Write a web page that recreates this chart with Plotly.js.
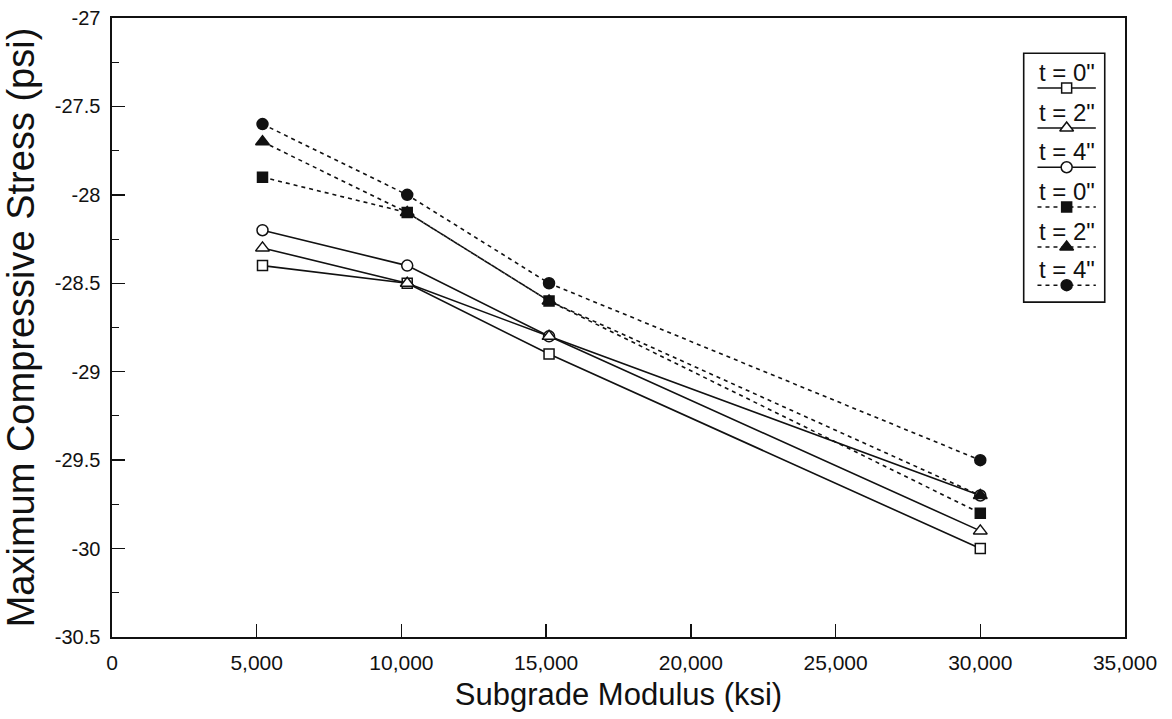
<!DOCTYPE html>
<html>
<head>
<meta charset="utf-8">
<script src="https://cdn.plot.ly/plotly-3.0.1.min.js"></script>
<style>html,body{margin:0;padding:0;background:#fff;}#chart{width:1172px;height:719px;}</style>
</head>
<body>
<div id="chart"></div>
<script>
// ---- data ----
const subgradeModulus = [5200, 10200, 15100, 30000];
const openT0 = [-28.4, -28.5, -28.9, -30.0];
const openT2 = [-28.3, -28.5, -28.8, -29.9];
const openT4 = [-28.2, -28.4, -28.8, -29.7];
const filledT0 = [-27.9, -28.1, -28.6, -29.8];
const filledT2 = [-27.7, -28.1, -28.6, -29.7];
const filledT4 = [-27.6, -28.0, -28.5, -29.5];
const seriesNames = ['t = 0"', 't = 2"', 't = 4"', 't = 0"', 't = 2"', 't = 4"'];
const xTickVals = [0, 5000, 10000, 15000, 20000, 25000, 30000, 35000];
const xTickText = ['0', '5,000', '10,000', '15,000', '20,000', '25,000', '30,000', '35,000'];
const yTickVals = [-27, -27.5, -28, -28.5, -29, -29.5, -30, -30.5];
const yTickText = ['-27', '-27.5', '-28', '-28.5', '-29', '-29.5', '-30', '-30.5'];

const seriesValues = [openT0, openT2, openT4, filledT0, filledT2, filledT4];
const symbols = ['square', 'triangle-up', 'circle', 'square', 'triangle-up', 'circle'];
const sizes = [10, 12, 11, 10, 12, 11];
const fills = ['#fff', '#fff', '#fff', '#111', '#111', '#111'];
const dashes = ['solid', 'solid', 'solid', '4px,4px', '4px,4px', '4px,4px'];

const traces = [];
[2, 0, 1, 3, 4, 5].forEach(i => {
  traces.push({
    x: subgradeModulus, y: seriesValues[i], type: 'scatter', mode: 'lines+markers',
    name: seriesNames[i], showlegend: false,
    line: {color: '#111', width: 1.6, dash: dashes[i]},
    marker: {symbol: symbols[i], size: sizes[i], color: fills[i], line: {color: '#111', width: 1.5}},
    cliponaxis: false
  });
});

// custom legend (text above sample) in its own small subplot
const rowLineY = [0.86, 0.70, 0.542, 0.382, 0.222, 0.068];
const annotations = [];
seriesNames.forEach((nm, i) => {
  traces.push({
    x: [0.17, 0.89], y: [rowLineY[i], rowLineY[i]],
    xaxis: 'x2', yaxis: 'y2', type: 'scatter', mode: 'lines', showlegend: false,
    hoverinfo: 'skip', line: {color: '#111', width: 1.5, dash: dashes[i]}
  });
  traces.push({
    x: [0.53], y: [rowLineY[i]],
    xaxis: 'x2', yaxis: 'y2', type: 'scatter', mode: 'markers', showlegend: false,
    hoverinfo: 'skip',
    marker: {symbol: symbols[i], size: sizes[i], color: fills[i], line: {color: '#111', width: 1.5}}
  });
  annotations.push({
    xref: 'x2', yref: 'y2', x: 0.53, y: rowLineY[i], yanchor: 'bottom', xanchor: 'center',
    text: nm, showarrow: false, font: {family: 'Liberation Sans, Arial, sans-serif', size: 24, color: '#111'}
  });
});

const layout = {
  width: 1172, height: 719,
  margin: {l: 112, r: 47, t: 18, b: 82},
  paper_bgcolor: '#fff', plot_bgcolor: '#fff',
  font: {family: 'Liberation Sans, Arial, sans-serif', color: '#111'},
  showlegend: false,
  xaxis: {
    range: [0, 35000], tickmode: 'array', tickvals: xTickVals, ticktext: xTickText,
    ticks: 'inside', ticklen: 13, tickwidth: 1.3, tickcolor: '#111',
    showline: true, linecolor: '#111', linewidth: 1.6, mirror: true,
    showgrid: false, zeroline: false, ticklabelstandoff: 6,
    tickfont: {size: 21, color: '#111'},
    title: {text: 'Subgrade Modulus (ksi)', font: {size: 31, color: '#111'}, standoff: 10}
  },
  yaxis: {
    range: [-30.5, -27], tickmode: 'array', tickvals: yTickVals, ticktext: yTickText,
    ticks: 'inside', ticklen: 13, tickwidth: 1.3, tickcolor: '#111',
    minor: {tickmode: 'linear', tick0: -27, dtick: 0.25, ticks: 'inside', ticklen: 7, tickwidth: 1.1, tickcolor: '#111', showgrid: false},
    showline: true, linecolor: '#111', linewidth: 1.6, mirror: true,
    showgrid: false, zeroline: false, ticklabelstandoff: 6,
    tickfont: {size: 20, color: '#111'},
    title: {text: 'Maximum Compressive Stress (psi)', font: {size: 38, color: '#111'}, standoff: 8}
  },
  xaxis2: {domain: [0.900, 0.980], range: [0, 1], visible: false, anchor: 'y2', fixedrange: true},
  yaxis2: {domain: [0.541, 0.943], range: [0, 1], visible: false, anchor: 'x2', fixedrange: true},
  shapes: [{
    type: 'rect', xref: 'x2 domain', yref: 'y2 domain', x0: 0, x1: 1, y0: 0, y1: 1,
    line: {color: '#111', width: 1.6}, fillcolor: 'rgba(0,0,0,0)', layer: 'above'
  }],
  annotations: annotations
};

Plotly.newPlot('chart', traces, layout, {displayModeBar: false, staticPlot: true});
</script>
</body>
</html>
